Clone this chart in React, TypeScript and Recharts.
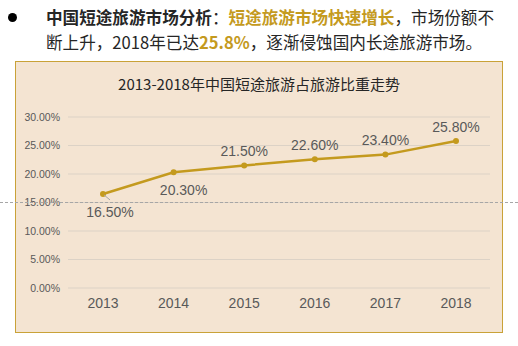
import { LineChart, Line, XAxis, YAxis, CartesianGrid, LabelList } from "recharts";

const years = ["2013", "2014", "2015", "2016", "2017", "2018"];
const shares = [16.5, 20.3, 21.5, 22.6, 23.4, 25.8];
const yTicks = [0, 5, 10, 15, 20, 25, 30];
// where each value label sits relative to its point
const labelSide = ["below", "below", "above", "above", "above", "above"];

const data = years.map((year, i) => ({ year, share: shares[i] }));

const GOLD = "#C49A1E";
const TEXT = "#595959";
const CJK = '"Noto Sans CJK SC", "Noto Sans", sans-serif';

function ValueLabel(props: any) {
  const { x, y, value, index } = props;
  const below = labelSide[index] === "below";
  const dx = index === 0 ? 7 : index === 1 ? 10 : 0;
  return (
    <g>
      {index === 0 && (
        <line x1={x + 1} y1={y + 1} x2={x + 7} y2={y + 6} stroke="#A6A6A6" strokeWidth={1} />
      )}
      <text
        x={x + dx}
        y={below ? y + 19 : y - 13}
        textAnchor="middle"
        dominantBaseline="middle"
        fontSize={14}
        fill={TEXT}
        fontFamily='"Liberation Sans Narrow", "Liberation Sans", Arial, sans-serif'
      >
        {`${Number(value).toFixed(2)}%`}
      </text>
    </g>
  );
}

export default function App() {
  return (
    <div
      style={{
        position: "absolute",
        left: 0,
        top: 0,
        width: 518,
        height: 346,
        background: "#fff",
        fontFamily: CJK,
        overflow: "hidden",
      }}
    >
      <div
        style={{
          position: "absolute",
          left: 8,
          top: 13,
          width: 9,
          height: 9,
          borderRadius: "50%",
          background: "#000",
        }}
      />
      <div
        style={{
          position: "absolute",
          left: 46,
          top: 5,
          fontSize: 16.6,
          lineHeight: "25px",
          color: "#262626",
          whiteSpace: "nowrap",
        }}
      >
        <div>
          <b>中国短途旅游市场分析</b>：<b style={{ color: GOLD }}>短途旅游市场快速增长</b>，市场份额不
        </div>
        <div>
          断上升，2018年已达<b style={{ color: GOLD }}>25.8%</b>，逐渐侵蚀国内长途旅游市场。
        </div>
      </div>

      <div
        style={{
          position: "absolute",
          left: 15,
          top: 61,
          width: 488,
          height: 272,
          boxSizing: "border-box",
          border: "1.5px solid #C9A238",
          background: "#F4E4D2",
        }}
      >
        <div
          style={{
            position: "absolute",
            left: 0,
            right: 0,
            top: 11,
            textAlign: "center",
            fontSize: 15,
            color: "#262626",
          }}
        >
          2013-2018年中国短途旅游占旅游比重走势
        </div>
        <div style={{ position: "absolute", left: -1.5, top: -1.5 }}>
          <LineChart
            width={488}
            height={272}
            data={data}
            margin={{ top: 56, right: 13, bottom: 15, left: 0 }}
          >
            <CartesianGrid vertical={false} stroke="#DCD2C6" />
            <XAxis
              dataKey="year"
              axisLine={false}
              tickLine={false}
              padding={{ left: 35, right: 34 }}
              height={30}
              tickMargin={4}
              tick={{ fontSize: 14, fill: TEXT, fontFamily: '"Liberation Sans", Arial, sans-serif' }}
            />
            <YAxis
              domain={[0, 30]}
              ticks={yTicks}
              width={53}
              axisLine={false}
              tickLine={false}
              tickFormatter={(v: number) => `${v.toFixed(2)}%`}
              tick={{ fontSize: 10.5, fill: TEXT, fontFamily: '"Liberation Sans", Arial, sans-serif' }}
            />
            <Line
              type="linear"
              dataKey="share"
              stroke={GOLD}
              strokeWidth={2.5}
              dot={{ r: 3, fill: GOLD, stroke: GOLD, strokeWidth: 0 }}
              isAnimationActive={false}
            >
              <LabelList dataKey="share" content={<ValueLabel />} />
            </Line>
          </LineChart>
        </div>
      </div>

      <div
        style={{
          position: "absolute",
          left: 0,
          width: 518,
          top: 202,
          borderTop: "1px dashed #A6A6A6",
        }}
      />
    </div>
  );
}
